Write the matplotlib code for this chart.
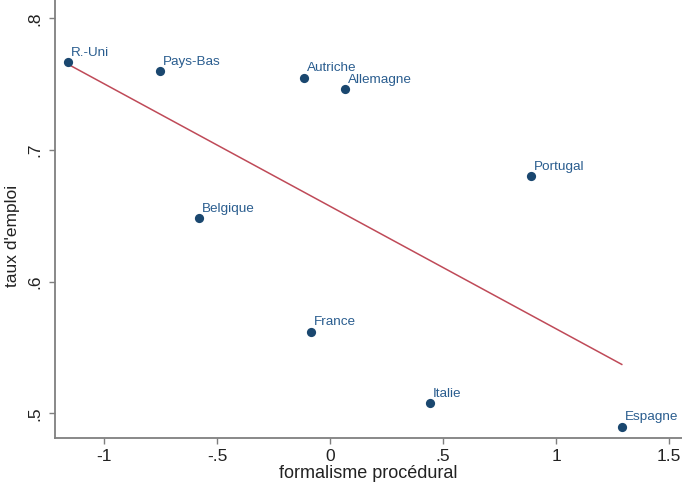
import numpy as np
import matplotlib
matplotlib.use("Agg")
import matplotlib.pyplot as plt

plt.rcParams['font.family'] = ['Liberation Sans', 'DejaVu Sans']

# formalisme procedural vs taux d'emploi, par pays
pays = ['R.-Uni', 'Pays-Bas', 'Autriche', 'Allemagne', 'Portugal',
        'Belgique', 'France', 'Italie', 'Espagne']
formalisme = [-1.161, -0.752, -0.115, 0.065, 0.889, -0.580, -0.085, 0.442, 1.291]
taux_emploi = [0.767, 0.760, 0.755, 0.746, 0.680, 0.648, 0.562, 0.508, 0.490]

xticks = [-1, -0.5, 0, 0.5, 1, 1.5]
xtick_labels = ['-1', '-.5', '0', '.5', '1', '1.5']
yticks = [0.5, 0.6, 0.7, 0.8]
ytick_labels = ['.5', '.6', '.7', '.8']

navy = '#1a476f'
maroon = '#bf4a58'
axis_grey = '#7f7f7f'

x = np.array(formalisme)
y = np.array(taux_emploi)

fig = plt.figure(figsize=(6.82, 4.87), dpi=100)
ax = fig.add_axes([0.0806, 0.1012, 0.9194, 0.8988])

ax.scatter(x, y, s=44, color=navy, zorder=3, linewidths=0)
for name, xi, yi in zip(pays, x, y):
    ax.annotate(name, (xi, yi), xytext=(2.3, 4.5), textcoords='offset points',
                ha='left', va='baseline', fontsize=9.7, color='#2a5d8f',
                annotation_clip=False)

# droite de regression (moindres carres)
slope, intercept = np.polyfit(x, y, 1)
xfit = np.array([x.min(), x.max()])
ax.plot(xfit, intercept + slope * xfit, color=maroon, lw=1.1, zorder=2)

ax.set_xlim(-1.217, 1.5575)
ax.set_ylim(0.4815, 0.8139)

ax.set_xticks(xticks)
ax.set_xticklabels(xtick_labels)
ax.set_yticks(yticks)
ax.set_yticklabels(ytick_labels, rotation=90, va='center')

for side in ['top', 'right']:
    ax.spines[side].set_visible(False)
for side in ['left', 'bottom']:
    ax.spines[side].set_color(axis_grey)
    ax.spines[side].set_linewidth(1.3)

ax.tick_params(axis='both', length=4, width=1, color=axis_grey,
               labelsize=12.5, labelcolor='#222222', pad=4)
ax.tick_params(axis='y', pad=5)

ax.set_xlabel('formalisme procédural', fontsize=13, color='#222222', labelpad=1)
ax.set_ylabel("taux d'emploi", fontsize=12.5, color='#222222')
ax.yaxis.set_label_coords(-0.055, 0.46)

fig.savefig('out.png', dpi=100, facecolor='white')
